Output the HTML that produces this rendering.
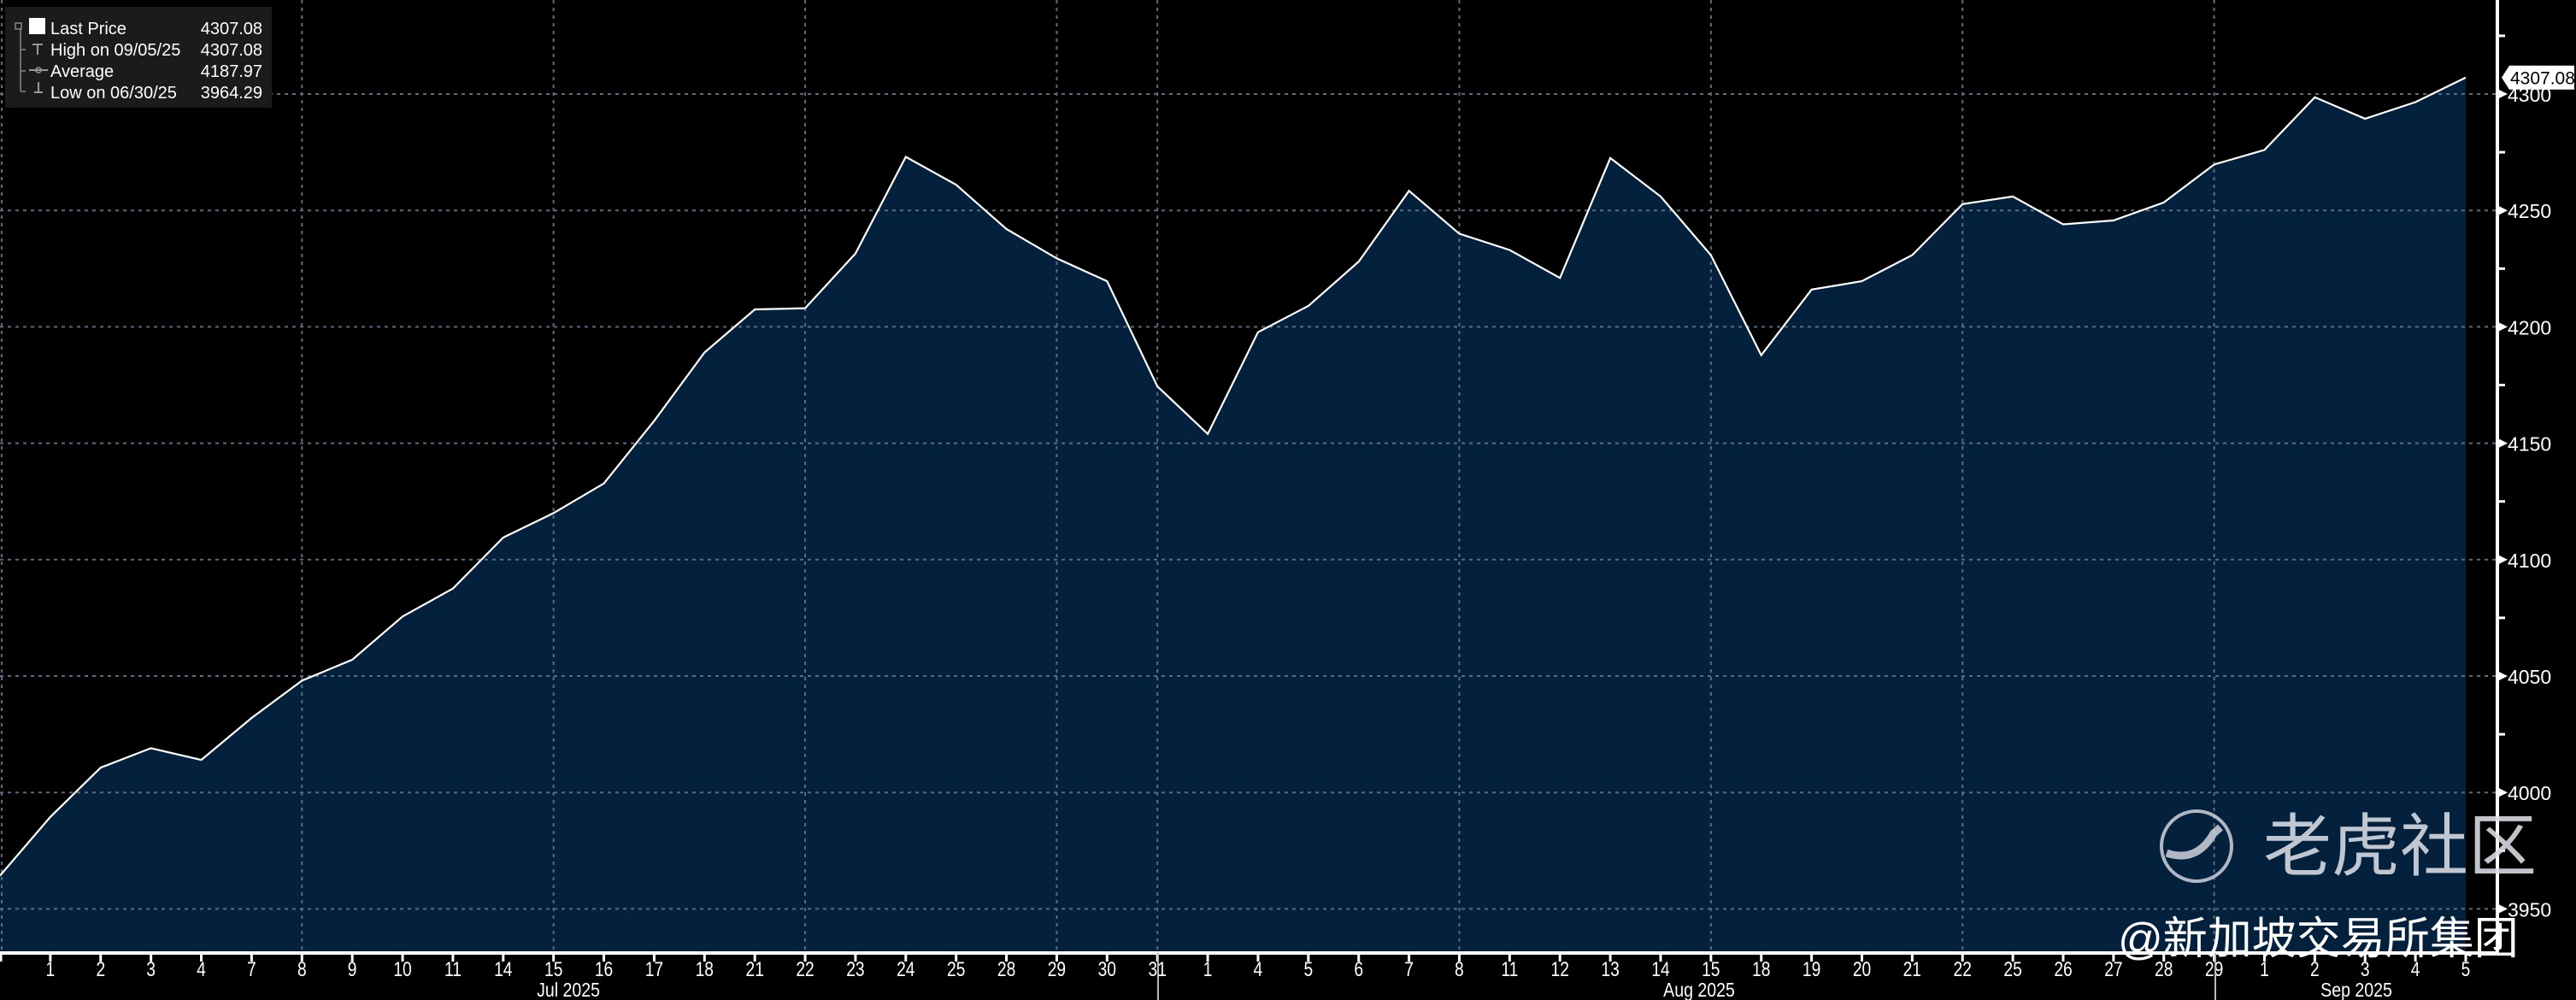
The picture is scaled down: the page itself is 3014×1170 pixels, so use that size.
<!DOCTYPE html>
<html><head><meta charset="utf-8"><style>
html,body{margin:0;padding:0;background:#000;}
svg{display:block;}
text{font-family:"Liberation Sans","Noto Sans CJK SC",sans-serif;}
</style></head><body>
<svg width="3014" height="1170" viewBox="0 0 3014 1170" xmlns="http://www.w3.org/2000/svg">
<rect width="3014" height="1170" fill="#000"/>
<g id="chart"></g>
<script>
(function(){
const NS="http://www.w3.org/2000/svg";
const g=document.getElementById("chart");
function el(t,a,txt){const e=document.createElementNS(NS,t);for(const k in a)e.setAttribute(k,a[k]);if(txt!==undefined)e.textContent=txt;g.appendChild(e);return e;}
const vals=[3964.29,3989.5,4010.7,4019,4014,4032,4048,4057,4075.6,4087.6,4109.5,4120,4132.7,4159.6,4189,4207.5,4208,4231.5,4273,4261,4242,4229.4,4219.6,4174.4,4154,4197.7,4209,4228,4258.4,4240,4233,4221,4272.5,4256,4230.8,4187.8,4216,4219.6,4230.8,4252.7,4256,4244,4245.7,4253.4,4269.7,4276,4298.6,4289.4,4296.5,4307.08];
const labels=["","1","2","3","4","7","8","9","10","11","14","15","16","17","18","21","22","23","24","25","28","29","30","31","1","4","5","6","7","8","11","12","13","14","15","18","19","20","21","22","25","26","27","28","29","1","2","3","4","5"];
const X=i=>i*2885/49;
const Y=v=>110+(4300-v)*2.724;
const axisY=1115, rx=2922;
let d="M0,"+axisY;
vals.forEach((v,i)=>d+=" L"+X(i).toFixed(1)+","+Y(v).toFixed(1));
d+=" L"+X(49)+","+axisY+" Z";
el("path",{d:d,fill:"#03203d"});
for(let v=3950;v<=4300;v+=50){
 el("line",{x1:0,x2:rx,y1:Y(v),y2:Y(v),stroke:"#5c6c7e","stroke-width":2,"stroke-dasharray":"4,5"});
}
[6,11,16,21,23,29,34,39,44].forEach(i=>{
 el("line",{x1:X(i),x2:X(i),y1:0,y2:axisY,stroke:"#5c6c7e","stroke-width":2,"stroke-dasharray":"4,5"});
});
el("line",{x1:2,x2:2,y1:0,y2:axisY,stroke:"#5c6c7e","stroke-width":2,"stroke-dasharray":"4,5"});
let p="";vals.forEach((v,i)=>p+=X(i).toFixed(1)+","+Y(v).toFixed(1)+" ");
el("polyline",{points:p,fill:"none",stroke:"#fff","stroke-width":2.2});
el("line",{x1:0,x2:rx+2,y1:axisY,y2:axisY,stroke:"#fff","stroke-width":4});
el("line",{x1:rx,x2:rx,y1:0,y2:axisY,stroke:"#fff","stroke-width":4});
labels.forEach((l,i)=>{
 if(i==0){el("line",{x1:1,x2:1,y1:axisY,y2:axisY+10,stroke:"#fff","stroke-width":3});return;}
 el("line",{x1:X(i),x2:X(i),y1:axisY,y2:axisY+10,stroke:"#fff","stroke-width":3});
 const t=el("text",{x:0,y:0,fill:"#fff","font-size":24,"text-anchor":"middle",transform:`translate(${X(i).toFixed(1)},1142) scale(0.8,1)`},l);
});
el("line",{x1:1355,x2:1355,y1:axisY,y2:1170,stroke:"#bbb","stroke-width":2});
el("line",{x1:2592,x2:2592,y1:axisY,y2:1170,stroke:"#bbb","stroke-width":2});
[["Jul 2025",665],["Aug 2025",1988],["Sep 2025",2757]].forEach(a=>el("text",{x:0,y:0,fill:"#fff","font-size":23,"text-anchor":"middle",transform:`translate(${a[1]},1166) scale(0.85,1)`},a[0]));
for(let v=3950;v<=4300;v+=50){
 const y=Y(v);
 el("path",{d:`M${rx},${y-6} L${rx+12},${y} L${rx},${y+6} Z`,fill:"#fff"});
 el("text",{x:rx+12,y:y+9,fill:"#fff","font-size":23},String(v));
}
for(let v=3975;v<=4325;v+=50){
 el("line",{x1:rx,x2:rx+9,y1:Y(v),y2:Y(v),stroke:"#fff","stroke-width":3});
}
const ly=Y(4307.08);
el("path",{d:`M${rx+5},${ly} L${rx+14},${ly-14} L3012,${ly-14} L3012,${ly+14} L${rx+14},${ly+14} Z`,fill:"#fff"});
el("text",{x:rx+15,y:ly+8,fill:"#000","font-size":21},"4307.08");
el("rect",{x:6,y:8,width:312,height:118,fill:"#1b1b1b"});
el("rect",{x:18,y:27,width:7,height:7,fill:"none",stroke:"#888","stroke-width":1.5});
el("line",{x1:24,x2:24,y1:34,y2:107,stroke:"#888","stroke-width":1.5});
[58,83,107].forEach(y=>el("line",{x1:24,x2:30,y1:y,y2:y,stroke:"#888","stroke-width":1.5}));
el("rect",{x:34,y:21,width:19,height:19,fill:"#fff"});
el("path",{d:"M38,52 H50 M44,52 V64 M34,82 H56 M40,108 H50 M45,96 V108",stroke:"#999","stroke-width":2,fill:"none"});
el("circle",{cx:45,cy:82,r:3,fill:"none",stroke:"#999","stroke-width":1.5});
const rows=[["Last Price","4307.08"],["High on 09/05/25","4307.08"],["Average","4187.97"],["Low on 06/30/25","3964.29"]];
rows.forEach((r,k)=>{const y=40+k*25;
 el("text",{x:59,y:y,fill:"#fff","font-size":20},r[0]);
 el("text",{x:307,y:y,fill:"#fff","font-size":20,"text-anchor":"end"},r[1]);
});
el("circle",{cx:2570,cy:990,r:41,fill:"none",stroke:"#d0d4da","stroke-width":4,opacity:0.85});
el("path",{d:"M2535,998 Q2570,1010 2590,975 L2598,968",fill:"none",stroke:"#d0d4da","stroke-width":9,opacity:0.85});
el("text",{x:2648,y:1018,fill:"#d6dae0","font-size":80,opacity:0.9},"老虎社区");
el("text",{x:2478,y:1116,fill:"#fff","font-size":52},"@新加坡交易所集团");
})();
</script>
</svg>
</body></html>
